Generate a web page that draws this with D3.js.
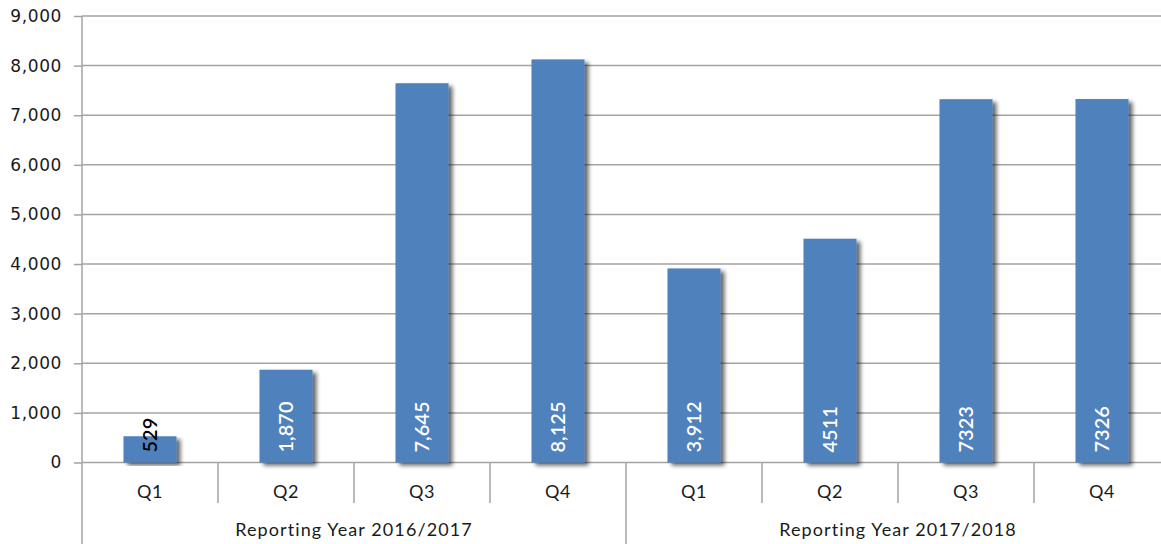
<!DOCTYPE html>
<html><head><meta charset="utf-8">
<script src="https://cdn.jsdelivr.net/npm/d3@7"></script>
<style>body{margin:0;background:#fff}svg{display:block}</style>
</head><body>
<svg id="c" width="1161" height="544"></svg>
<script>
const years = ["Reporting Year 2016/2017", "Reporting Year 2017/2018"];
const quarters = ["Q1","Q2","Q3","Q4","Q1","Q2","Q3","Q4"];
const values = [529, 1870, 7645, 8125, 3912, 4511, 7323, 7326];
const labels = ["529","1,870","7,645","8,125","3,912","4511","7323","7326"];
const labelColors = ["#000","#fff","#fff","#fff","#fff","#fff","#fff","#fff"];
const yTicks = [0,1000,2000,3000,4000,5000,6000,7000,8000,9000];

(function(){
const svg = d3.select("#c");
const pL = 82, pR = 1170, pT = 16, base = 462.5;
const idx = d3.range(values.length);
const x = d3.scaleBand().domain(idx).range([pL, pR]).paddingInner(0.61).paddingOuter(0.305);
const y = d3.scaleLinear().domain([0, 9000]).range([base, pT]);
const step = x.step();
const gridCol = "#a3a3a3";

const defs = svg.append("defs");
const f = defs.append("filter").attr("id","sh").attr("x","-20%").attr("y","-5%").attr("width","160%").attr("height","115%");
f.append("feGaussianBlur").attr("in","SourceAlpha").attr("stdDeviation",2.2).attr("result","b");
f.append("feOffset").attr("in","b").attr("dx",4).attr("dy",3).attr("result","o");
f.append("feComponentTransfer").attr("in","o").attr("result","o2").append("feFuncA").attr("type","linear").attr("slope",0.6);
const m = f.append("feMerge"); m.append("feMergeNode").attr("in","o2"); m.append("feMergeNode").attr("in","SourceGraphic");

const ya = d3.axisLeft(y).tickValues(yTicks).tickFormat(d3.format(",")).tickSize(8).tickPadding(12);
const gy = svg.append("g").attr("transform",`translate(${pL},0)`).call(ya);
gy.select(".domain").remove();
gy.selectAll(".tick line").attr("stroke",gridCol).attr("stroke-width",1.5);
gy.selectAll(".tick text").attr("font-family","DejaVu Sans, Verdana, sans-serif").attr("font-size",17).attr("letter-spacing",0.6).attr("fill","#1a1a1a");
svg.append("g").selectAll("line").data(yTicks).join("line")
  .attr("x1",pL).attr("x2",1161).attr("y1",d=>y(d)).attr("y2",d=>y(d))
  .attr("stroke",gridCol).attr("stroke-width",1.5);

svg.append("line").attr("x1",pL).attr("x2",pL).attr("y1",pT).attr("y2",544).attr("stroke",gridCol).attr("stroke-width",1.5);

svg.append("g").selectAll("rect").data(idx).join("rect")
  .attr("x",i=>x(i)).attr("width",x.bandwidth())
  .attr("y",i=>y(values[i])).attr("height",i=>base-y(values[i]))
  .attr("fill","#4f81bd").attr("filter","url(#sh)");

svg.append("g").selectAll("text").data(idx).join("text")
  .attr("transform",i=>`translate(${x(i)+x.bandwidth()/2},${base-10}) rotate(-90)`)
  .attr("dy","0.36em").attr("text-anchor","start")
  .attr("font-family","Lato, sans-serif").attr("font-size",20).attr("font-weight",600)
  .attr("fill",i=>labelColors[i]).text(i=>labels[i]);

svg.append("g").selectAll("line").data(d3.range(1, values.length)).join("line")
  .attr("x1",i=>pL+i*step).attr("x2",i=>pL+i*step)
  .attr("y1",base).attr("y2",i=>i%4===0?544:503)
  .attr("stroke",gridCol).attr("stroke-width",1.5);

svg.append("g").selectAll("text").data(idx).join("text")
  .attr("x",i=>x(i)+x.bandwidth()/2).attr("y",492).attr("dy","0.35em")
  .attr("text-anchor","middle").attr("font-family","Lato, sans-serif").attr("font-size",18)
  .attr("letter-spacing",0.5).attr("fill","#1a1a1a").text(i=>quarters[i]);

svg.append("g").selectAll("text").data(years).join("text")
  .attr("x",(d,j)=>pL+(j*4+2)*step).attr("y",530).attr("dy","0.35em")
  .attr("text-anchor","middle").attr("font-family","Lato, sans-serif").attr("font-size",18)
  .attr("letter-spacing",1.1).attr("fill","#1a1a1a").text(d=>d);
})();
</script>
</body></html>
